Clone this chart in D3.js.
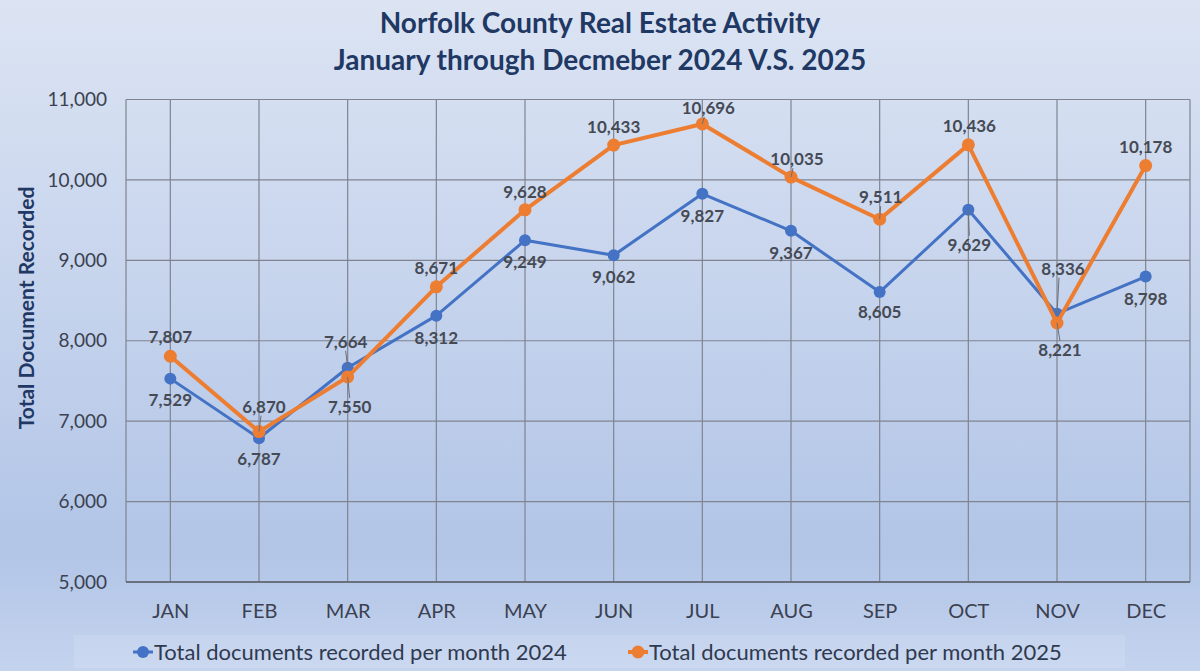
<!DOCTYPE html>
<html>
<head>
<meta charset="utf-8">
<script src="https://cdn.jsdelivr.net/npm/d3@7"></script>
<style>
  body { margin: 0; }
  svg { display: block; font-family: Lato, "Open Sans", sans-serif; }
</style>
</head>
<body>
<svg width="1200" height="671"></svg>
<script>
const months = ["JAN", "FEB", "MAR", "APR", "MAY", "JUN", "JUL", "AUG", "SEP", "OCT", "NOV", "DEC"];
const docs2024 = [7529, 6787, 7664, 8312, 9249, 9062, 9827, 9367, 8605, 9629, 8336, 8798];
const docs2025 = [7807, 6870, 7550, 8671, 9628, 10433, 10696, 10035, 9511, 10436, 8221, 10178];
const yTicks = [5000, 6000, 7000, 8000, 9000, 10000, 11000];
const seriesNames = ["Total documents recorded per month 2024", "Total documents recorded per month 2025"];

// where each data label sits around its point: [dx, dy, leader line?]
const labelPos2024 = [[0,21],[0,21],[-2,-26,1],[0,22],[0,22],[0,22],[0,22],[0,22],[0,20],[1,35,1],[6,-45,1],[0,22]];
const labelPos2025 = [[0,-19],[5,-25,1],[2,30,1],[0,-19],[0,-18],[0,-18],[6,-16,1],[6,-18,1],[1,-22,1],[1,-19],[3,27,1],[0,-19]];

const svg = d3.select("svg");
const W = 1200, H = 671;
const plot = { left: 126, right: 1190, top: 99.5, bottom: 582 };

// background gradient
const defs = svg.append("defs");
const grad = defs.append("linearGradient").attr("id", "bg").attr("x1", 0).attr("y1", 0).attr("x2", 0).attr("y2", 1);
grad.append("stop").attr("offset", "0%").attr("stop-color", "#dce4f3");
grad.append("stop").attr("offset", "82%").attr("stop-color", "#b2c5e7");
grad.append("stop").attr("offset", "100%").attr("stop-color", "#c4d3ee");
svg.append("rect").attr("width", W).attr("height", H).attr("fill", "url(#bg)");

const x = d3.scalePoint().domain(months).range([plot.left, plot.right]).padding(0.5);
const y = d3.scaleLinear().domain([5000, 11000]).range([plot.bottom, plot.top]);

// gridlines
const grid = svg.append("g").attr("stroke", "#7f8490").attr("stroke-width", 1.2);
grid.selectAll(".h").data(yTicks).enter().append("line")
  .attr("x1", plot.left).attr("x2", plot.right)
  .attr("y1", d => y(d)).attr("y2", d => y(d));
grid.selectAll(".v").data(months).enter().append("line")
  .attr("x1", d => x(d)).attr("x2", d => x(d))
  .attr("y1", plot.top).attr("y2", plot.bottom);
grid.selectAll(".edge").data([plot.left, plot.right]).enter().append("line")
  .attr("x1", d => d).attr("x2", d => d)
  .attr("y1", plot.top).attr("y2", plot.bottom);
svg.append("line").attr("x1", plot.left).attr("x2", plot.right)
  .attr("y1", plot.bottom).attr("y2", plot.bottom)
  .attr("stroke", "#5a5f6a").attr("stroke-width", 1.5);

// axes
const yAxis = svg.append("g").attr("transform", `translate(${plot.left},0)`)
  .call(d3.axisLeft(y).tickValues(yTicks).tickFormat(d3.format(",")).tickSize(0).tickPadding(19));
const xAxis = svg.append("g").attr("transform", `translate(0,${plot.bottom})`)
  .call(d3.axisBottom(x).tickSize(0).tickPadding(22));
[yAxis, xAxis].forEach(a => {
  a.select(".domain").remove();
  a.selectAll("text").attr("font-size", 19).attr("fill", "#3b4150").attr("font-family", "Lato, sans-serif");
});
xAxis.selectAll("text").attr("font-size", 20);

// titles
const title = svg.append("text").attr("x", 600).attr("text-anchor", "middle")
  .attr("font-size", 28).attr("font-weight", "bold").attr("fill", "#1f3864");
title.append("tspan").attr("x", 600).attr("y", 33).text("Norfolk County Real Estate Activity");
title.append("tspan").attr("x", 600).attr("y", 70).text("January through Decmeber 2024 V.S. 2025");

svg.append("text")
  .attr("transform", "translate(34,308) rotate(-90)")
  .attr("text-anchor", "middle").attr("font-size", 21).attr("font-weight", "bold")
  .attr("fill", "#1f3864").text("Total Document Recorded");

// series
const series = [
  { values: docs2024, color: "#4472c4", width: 3, r: 6, labels: labelPos2024 },
  { values: docs2025, color: "#ed7d31", width: 4, r: 6.5, labels: labelPos2025 }
];
const line = d3.line().x((d, i) => x(months[i])).y(d => y(d));

series.forEach(s => {
  svg.append("path").datum(s.values).attr("d", line)
    .attr("fill", "none").attr("stroke", s.color).attr("stroke-width", s.width)
    .attr("stroke-linejoin", "round");
  svg.append("g").selectAll("circle").data(s.values).enter().append("circle")
    .attr("cx", (d, i) => x(months[i])).attr("cy", d => y(d))
    .attr("r", s.r).attr("fill", s.color);
});

// data labels
series.forEach(s => {
  const g = svg.append("g");
  s.values.forEach((v, i) => {
    const [dx, dy, leader] = s.labels[i];
    const px = x(months[i]), py = y(v);
    const lx = px + dx, ly = py + dy;
    if (leader) {
      const sgn = dy < 0 ? 1 : -1;
      g.append("line")
        .attr("x1", lx + (dx > 3 ? -dx + 2 : 0)).attr("y1", ly + sgn * 9)
        .attr("x2", px).attr("y2", py)
        .attr("stroke", "#6b6f78").attr("stroke-width", 1);
    }
    g.append("text").attr("x", lx).attr("y", ly).attr("dy", "0.35em")
      .attr("text-anchor", "middle").attr("font-size", 17).attr("font-weight", "bold")
      .attr("fill", "#454a54").text(d3.format(",")(v));
  });
});

// legend
svg.append("rect").attr("x", 74).attr("y", 635).attr("width", 1051).attr("height", 33)
  .attr("fill", "#ffffff").attr("fill-opacity", 0.12);
const legX = [133, 628];
series.forEach((s, i) => {
  const g = svg.append("g").attr("transform", `translate(${legX[i]},652)`);
  g.append("line").attr("x1", 0).attr("x2", 20).attr("stroke", s.color).attr("stroke-width", s.width);
  g.append("circle").attr("cx", 10).attr("r", s.r).attr("fill", s.color);
  g.append("text").attr("x", 21).attr("dy", "0.35em").attr("font-size", 22)
    .attr("fill", "#2f3a4f").text(seriesNames[i]);
});
</script>
</body>
</html>
